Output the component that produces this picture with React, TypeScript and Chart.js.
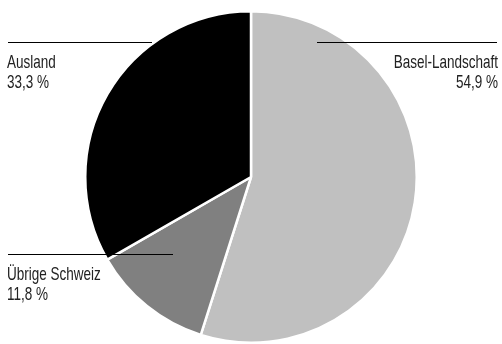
import React, { useEffect, useRef } from "react";
import { Chart, registerables } from "chart.js";

Chart.register(...registerables);

const categories = ["Basel-Landschaft", "Übrige Schweiz", "Ausland"];
const shares = [54.9, 11.8, 33.3];
const valueLabels = ["54,9 %", "11,8 %", "33,3 %"];
const sliceColors = ["#c0c0c0", "#808080", "#000000"];

const FONT = '18.5px "Liberation Sans", Arial, sans-serif';
const CONDENSE = 0.73;

// label layout: line y, line from x1 to x2, text anchor
const labelLayout = [
  { side: "right", lineY: 42.5, x1: 317, x2: 497, textX: 498, textY: 67.5 },
  { side: "left", lineY: 254.5, x1: 8, x2: 173, textX: 7, textY: 280 },
  { side: "left", lineY: 42.5, x1: 8, x2: 152, textX: 7, textY: 67.5 },
];

const labelPlugin = {
  id: "leaderLabels",
  afterDatasetsDraw(chart: any) {
    const ctx = chart.ctx;
    ctx.save();
    ctx.strokeStyle = "#000";
    ctx.lineWidth = 1;
    ctx.fillStyle = "#222";
    ctx.font = FONT;
    ctx.textBaseline = "alphabetic";
    labelLayout.forEach((l, i) => {
      ctx.beginPath();
      ctx.moveTo(l.x1, l.lineY);
      ctx.lineTo(l.x2, l.lineY);
      ctx.stroke();
      ctx.textAlign = l.side === "right" ? "right" : "left";
      [categories[i], valueLabels[i]].forEach((t, k) => {
        const w = ctx.measureText(t).width;
        ctx.fillText(t, l.textX, l.textY + k * 20, w * CONDENSE);
      });
    });
    ctx.restore();
  },
};

export default function App() {
  const ref = useRef<HTMLCanvasElement | null>(null);
  useEffect(() => {
    document.body.style.margin = "0";
    const chart = new Chart(ref.current!, {
      type: "pie",
      data: {
        labels: categories,
        datasets: [
          {
            data: shares,
            backgroundColor: sliceColors,
            borderColor: "#ffffff",
            borderWidth: 2.5,
          },
        ],
      },
      options: {
        animation: false,
        responsive: false,
        layout: { padding: { top: 10, bottom: 0, left: 0, right: 0 } },
        plugins: {
          legend: { display: false },
          tooltip: { enabled: false },
        },
      },
      plugins: [labelPlugin],
    });
    return () => chart.destroy();
  }, []);
  return (
    <div style={{ width: 502, height: 344 }}>
      <canvas ref={ref} width={502} height={344} />
    </div>
  );
}
